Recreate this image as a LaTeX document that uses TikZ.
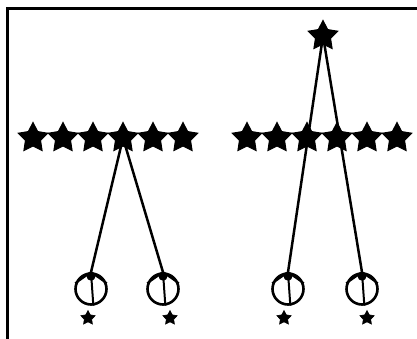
\documentclass[tikz,border=0pt]{standalone}
\usetikzlibrary{shapes.geometric}
\tikzset{
  bigstar/.style={star, star points=5, star point ratio=1.95, fill=black, draw=black, line width=1pt, minimum size=31pt, inner sep=0pt},
  smallstar/.style={star, star points=5, star point ratio=1.95, fill=black, draw=black, line width=0.6pt, minimum size=15pt, inner sep=0pt},
  ring/.style={circle, draw=black, line width=2.6pt, minimum size=31pt, inner sep=0pt},
  wire/.style={draw=black, line width=2.5pt},
  ringmark/.style={draw=black, line width=2pt}
}
\begin{document}
\begin{tikzpicture}[x=1pt,y=-1pt]
\useasboundingbox (0,0) rectangle (417,339);
\fill[white] (0,0) rectangle (417,339);
% frame
\coordinate (f1) at (7.5,339);
\coordinate (f2) at (7.5,8.5);
\coordinate (f3) at (417,8.5);
\draw[line width=2.6pt] (f1) -- (f2) -- (f3);
% left group
\foreach \i/\x in {1/33,2/63,3/93,4/123,5/153,6/183}
  \node[bigstar] (a\i) at (\x,138) {};
\node[ring] (c1) at (91,289) {};
\node[ring] (c2) at (163,289) {};
\node[smallstar] (p1) at (88,318) {};
\node[smallstar] (p2) at (170,318) {};
\draw[wire] (a4.center) -- (c1.north);
\draw[wire] (a4.center) -- (c2.north);
% right group
\foreach \i/\x in {1/247,2/277,3/307,4/337,5/367,6/397}
  \node[bigstar] (b\i) at (\x,138) {};
\node[bigstar] (t) at (323,36) {};
\node[ring] (c3) at (288,289) {};
\node[ring] (c4) at (362,289) {};
\node[smallstar] (p3) at (284,318) {};
\node[smallstar] (p4) at (367,318) {};
\draw[wire] (t.center) -- (c3.north);
\draw[wire] (t.center) -- (c4.north);
% inner marks of the rings
\foreach \c in {c1,c2,c3,c4} {
  \draw[ringmark] (\c.160) -- (\c.north) -- (\c.20);
  \draw[ringmark] (\c.north) -- (\c.278);
  \fill (\c.north) ++(0,4) circle (4.5pt);
}
\end{tikzpicture}
\end{document}
